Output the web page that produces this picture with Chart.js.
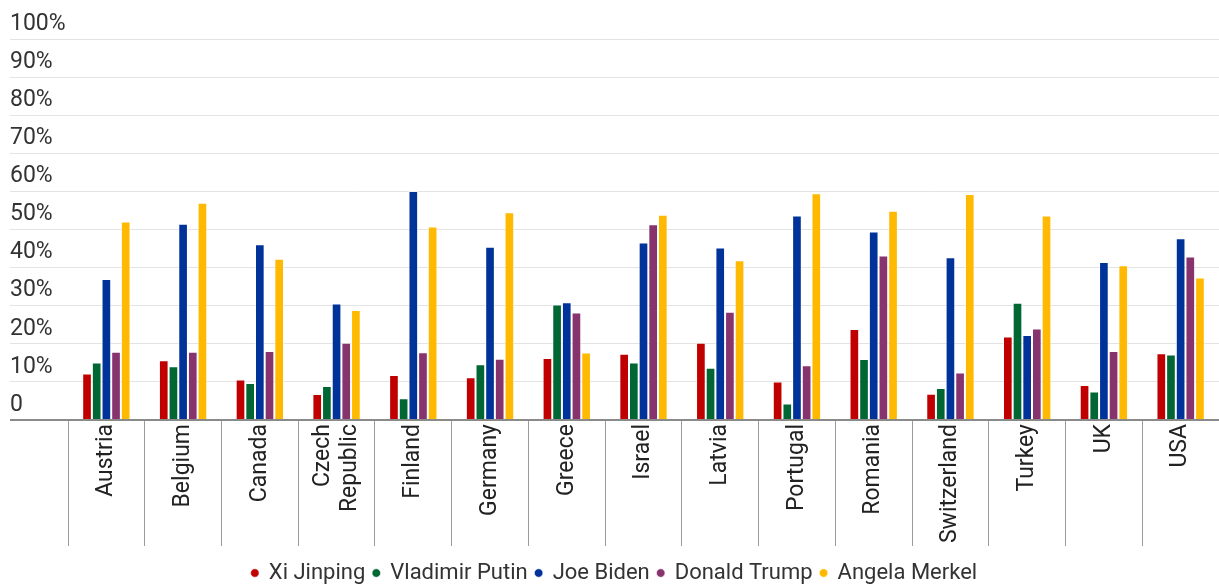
<!DOCTYPE html>
<html>
<head>
<meta charset="utf-8">
<script src="https://cdn.jsdelivr.net/npm/chart.js@4.4.1/dist/chart.umd.min.js"></script>
<style>
  html, body { margin: 0; padding: 0; background: #fff; overflow: hidden; }
  #wrap { width: 1219px; height: 594px; position: relative; }
</style>
</head>
<body>
<div id="wrap"><canvas id="grafico"></canvas></div>
<script>
// countries on the x axis
var countries = ["Austria", "Belgium", "Canada", ["Czech", "Republic"], "Finland", "Germany", "Greece",
  "Israel", "Latvia", "Portugal", "Romania", "Switzerland", "Turkey", "UK", "USA"];

// series (percent)
var xiJinping     = [12.2, 15.7, 10.6, 6.8, 11.8, 11.2, 16.3, 17.4, 20.3, 10.1, 23.9, 6.9, 21.9, 9.2, 17.5];
var vladimirPutin = [15.1, 14.1, 9.7, 8.9, 5.7, 14.6, 30.3, 15.1, 13.7, 4.3, 16.0, 8.4, 30.8, 7.5, 17.2];
var joeBiden      = [37.0, 51.5, 46.1, 30.6, 60.1, 45.5, 30.9, 46.6, 45.3, 53.7, 49.5, 42.7, 22.3, 41.5, 47.7];
var donaldTrump   = [17.9, 17.9, 18.1, 20.3, 17.8, 16.1, 28.2, 51.4, 28.4, 14.4, 43.2, 12.5, 24.0, 18.1, 42.9];
var angelaMerkel  = [52.1, 57.0, 42.3, 28.9, 50.8, 54.5, 17.7, 53.9, 41.9, 59.5, 54.9, 59.3, 53.7, 40.6, 37.4];

var yTickLabels = ["0", "10%", "20%", "30%", "40%", "50%", "60%", "70%", "80%", "90%", "100%"];

Chart.defaults.font.family = "Roboto";
Chart.defaults.color = "#333";

function serie(nombre, datos, color) {
  return {
    label: nombre,
    data: datos,
    backgroundColor: color,
    borderColor: "rgba(255,255,255,0.55)",
    borderWidth: 1,
    barPercentage: 1,
    categoryPercentage: 0.63
  };
}

// two-line labels: centre both lines on the category instead of starting at it
var centrarLineas = {
  id: "centrarLineas",
  beforeDraw: function (c) {
    var s = c.scales.x;
    s.getLabelItems(c.chartArea).forEach(function (it) {
      if (Array.isArray(it.label) && it.label.length > 1 && !it._movido) {
        it.options.translation[0] -= (it.label.length - 1) * it.font.lineHeight / 2;
        it._movido = true;
      }
    });
  }
};

var chart = new Chart(document.getElementById("grafico"), {
  type: "bar",
  data: {
    labels: countries,
    datasets: [
      serie("Xi Jinping", xiJinping, "#c00000"),
      serie("Vladimir Putin", vladimirPutin, "#006633"),
      serie("Joe Biden", joeBiden, "#003399"),
      serie("Donald Trump", donaldTrump, "#86336e"),
      serie("Angela Merkel", angelaMerkel, "#ffb900")
    ]
  },
  plugins: [centrarLineas],
  options: {
    responsive: true,
    maintainAspectRatio: false,
    animation: false,
    layout: { padding: { top: 39, left: 10, right: 0, bottom: 0 } },
    plugins: {
      tooltip: { enabled: false },
      legend: {
        position: "bottom",
        labels: {
          usePointStyle: true,
          pointStyle: "circle",
          boxWidth: 6,
          boxHeight: 6,
          padding: 8,
          color: "#333",
          font: { size: 22 }
        }
      }
    },
    scales: {
      x: {
        offset: true,
        border: { display: false },
        grid: {
          offset: true,
          drawOnChartArea: false,
          drawTicks: true,
          tickLength: 126,
          color: "#9a9a9a"
        },
        ticks: {
          autoSkip: false,
          minRotation: 90,
          maxRotation: 90,
          padding: -122,
          color: "#222",
          font: { size: 23 }
        },
        afterFit: function (s) { s.height = 134; }
      },
      y: {
        min: 0,
        max: 100,
        border: { display: false },
        grid: {
          tickLength: 58,
          color: function (c) { return c.tick && c.tick.value === 0 ? "#8a8a8a" : "#e3e3e3"; },
          lineWidth: function (c) { return c.tick && c.tick.value === 0 ? 2 : 1; }
        },
        ticks: {
          stepSize: 10,
          crossAlign: "far",
          labelOffset: -15,
          color: "#333",
          font: { size: 23 },
          callback: function (v, i) { return yTickLabels[i]; }
        },
        afterFit: function (s) { s.width = 58; }
      }
    }
  }
});
</script>
</body>
</html>
